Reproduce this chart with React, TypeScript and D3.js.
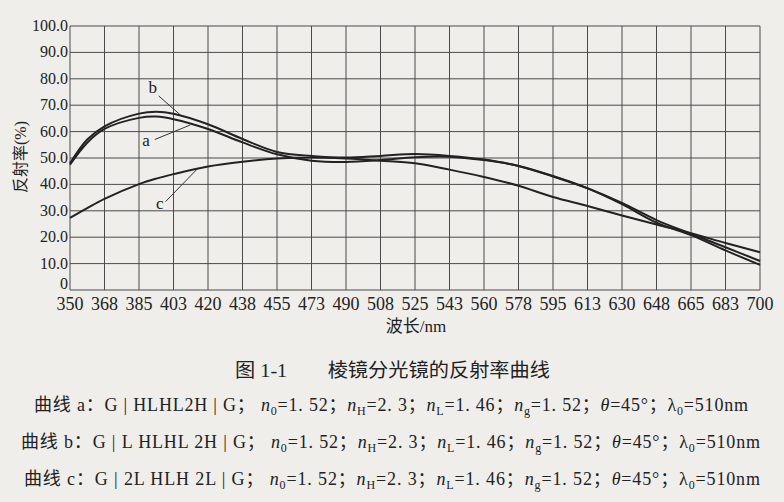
import React from "react";
import * as d3 from "d3";

const wavelengths = [350, 358.75, 367.5, 385, 393.75, 402.5, 420, 437.5, 455, 472.5, 490, 507.5, 525, 542.5, 560, 577.5, 595, 612.5, 630, 647.5, 665, 682.5, 700];
const curveA = [47.5, 55.8, 61, 65.2, 65.7, 64.7, 61, 55.9, 51.4, 49, 48.5, 49.2, 50.3, 50.5, 49.2, 47, 43.2, 38.6, 33, 26.5, 21.3, 16.2, 11];
const curveB = [48, 57, 62, 66.8, 67.5, 66.8, 62.8, 57.2, 52.3, 50.8, 50.2, 50.8, 51.5, 50.8, 49.4, 47, 43, 38.5, 32.5, 25.5, 20.8, 15, 9.5];
const curveC = [27.3, 31, 34.5, 40.1, 42.2, 43.9, 46.8, 48.6, 49.8, 50.2, 49.8, 49, 48, 45.6, 42.8, 39.5, 35.2, 31.8, 28.2, 24.8, 21.5, 17.8, 14.3];

const xTickValues = d3.range(0, 21).map((i) => 350 + i * 17.5);
const xTickLabels = ["350", "368", "385", "403", "420", "438", "455", "473", "490", "508", "525", "543", "560", "578", "595", "613", "630", "648", "665", "683", "700"];
const yTickValues = [0, 10, 20, 30, 40, 50, 60, 70, 80, 90, 100];
const yTickLabels = ["0", "10.0", "20.0", "30.0", "40.0", "50.0", "60.0", "70.0", "80.0", "90.0", "100.0"];

// label letter, label anchor (nm, %), leader start (nm, %), leader end (nm, %)
const annotations = [
  { name: "b", label: [392, 74.5], from: [395, 73.5], to: [406, 66.3] },
  { name: "a", label: [388.5, 54.5], from: [393, 57], to: [411, 62.5] },
  { name: "c", label: [395.5, 30.5], from: [398.5, 33.5], to: [414.5, 45.8] },
];

const captionTitle = "图 1-1　　棱镜分光镜的反射率曲线";
const legendNames = ["曲线 a：G | HLHL2H | G；", "曲线 b：G | L HLHL 2H | G；", "曲线 c：G | 2L HLH 2L | G；"];
const legendX = [34, 21, 24];
const legendW = [714, 739, 736];

const W = 784;
const H = 502;
const left = 70;
const right = 760;
const top = 26;
const bottom = 290;

const serif = "'Liberation Serif', 'Noto Sans CJK SC', serif";

function Param({ sym, sub, val, italic = true }: { sym: string; sub?: string; val: string; italic?: boolean }) {
  return (
    <>
      <tspan fontStyle={italic ? "italic" : "normal"}>{sym}</tspan>
      {sub ? <tspan dy={4} fontSize={12}>{sub}</tspan> : null}
      <tspan dy={sub ? -4 : 0}>{val}</tspan>
    </>
  );
}

export default function App() {
  const x = d3.scaleLinear().domain([350, 700]).range([left, right]);
  const y = d3.scaleLinear().domain([0, 100]).range([bottom, top]);
  const line = d3
    .line<number>()
    .x((_, i) => x(wavelengths[i]))
    .y((d) => y(d))
    .curve(d3.curveCatmullRom.alpha(0.5));

  const series = [curveA, curveB, curveC];

  return (
    <svg width={W} height={H} style={{ position: "absolute", left: 0, top: 0 }}>
      <rect x={0} y={0} width={W} height={H} fill="#efeeeb" />
      <g stroke="#4a4a4a" strokeWidth={1}>
        {xTickValues.map((v, i) => (
          <line key={"vx" + i} x1={x(v)} x2={x(v)} y1={top} y2={bottom} />
        ))}
        {yTickValues.map((v, i) => (
          <line key={"hy" + i} x1={left} x2={right} y1={y(v)} y2={y(v)} />
        ))}
      </g>
      <g fill="none" stroke="#222" strokeWidth={2}>
        {series.map((s, i) => (
          <path key={"s" + i} d={line(s) || ""} />
        ))}
      </g>
      <g fontFamily={serif} fontSize={17} fill="#222">
        {annotations.map((a) => (
          <g key={a.name}>
            <line x1={x(a.from[0])} y1={y(a.from[1])} x2={x(a.to[0])} y2={y(a.to[1])} stroke="#333" strokeWidth={1} />
            <text x={x(a.label[0])} y={y(a.label[1])} textAnchor="middle">{a.name}</text>
          </g>
        ))}
      </g>
      <g fontFamily={serif} fontSize={16} fill="#222">
        {yTickValues.map((v, i) => (
          <text key={"yt" + i} x={left - 2} y={y(v) + (v === 0 ? -1 : 5)} textAnchor="end">{yTickLabels[i]}</text>
        ))}
      </g>
      <g fontFamily={serif} fontSize={18} fill="#222">
        {xTickValues.map((v, i) => (
          <text key={"xt" + i} x={x(v)} y={310} textAnchor="middle">{xTickLabels[i]}</text>
        ))}
      </g>
      <text x={416} y={332} textAnchor="middle" fontFamily={serif} fontSize={17} fill="#222">波长/nm</text>
      <text transform={`translate(26,157) rotate(-90)`} textAnchor="middle" fontFamily={serif} fontSize={16} fill="#222">反射率(%)</text>
      <text x={235} y={377} textLength={315} lengthAdjust="spacingAndGlyphs" fontFamily={serif} fontSize={19} fill="#222">{captionTitle}</text>
      <g fontFamily={serif} fontSize={18} fill="#222">
        {legendNames.map((n, i) => (
          <text key={"lg" + i} x={legendX[i]} y={411 + i * 37} textLength={legendW[i]} lengthAdjust="spacing">
            <tspan>{n}</tspan>
            <Param sym=" n" sub="0" val="=1. 52；" />
            <Param sym="n" sub="H" val="=2. 3；" />
            <Param sym="n" sub="L" val="=1. 46；" />
            <Param sym="n" sub="g" val="=1. 52；" />
            <Param sym="θ" val="=45°；" />
            <Param sym="λ" sub="0" val="=510nm" italic={false} />
          </text>
        ))}
      </g>
    </svg>
  );
}
